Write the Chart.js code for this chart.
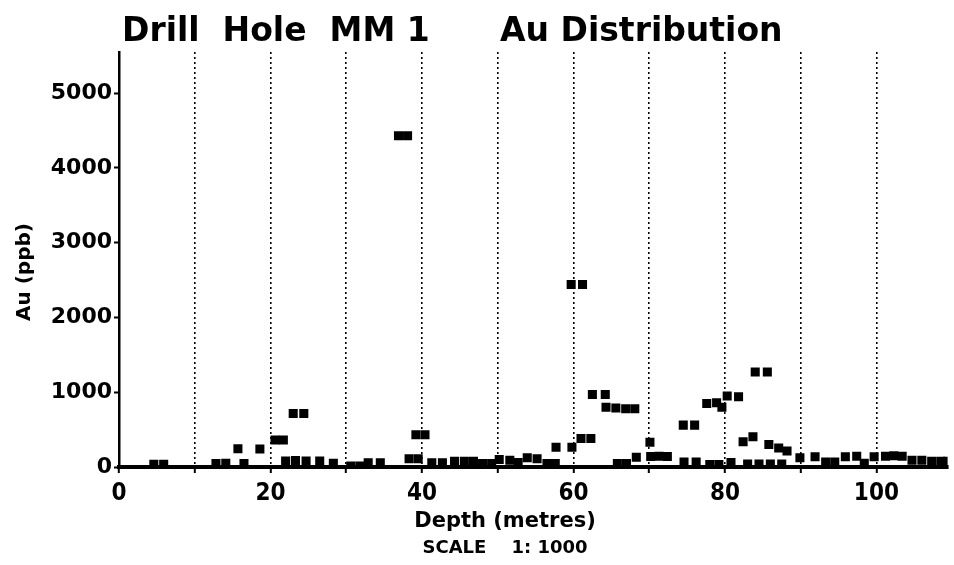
<!DOCTYPE html>
<html>
<head>
<meta charset="utf-8">
<title>Drill Hole MM 1 - Au Distribution</title>
<script src="https://cdn.jsdelivr.net/npm/chart.js@4.4.1/dist/chart.umd.min.js"></script>
<style>
  html, body { margin: 0; padding: 0; background: #fff; }
  #wrap { width: 954px; height: 565px; }
</style>
</head>
<body>
<div id="wrap"><canvas id="chart" width="954" height="565"></canvas></div>
<script>
// Captions
const titleLeft = 'Drill  Hole  MM 1';
const titleRight = 'Au Distribution';
const xAxisTitle = 'Depth (metres)';
const scaleNote = 'SCALE    1: 1000';
const yAxisTitle = 'Au (ppb)';

// Tick values: labelled depths (gridlines every 10 m) and Au levels
const depthLabelTicks = [0, 20, 40, 60, 80, 100];
const auTicks = [0, 1000, 2000, 3000, 4000, 5000];

// Sample depths (m) and gold assays (ppb)
const depthMetres = [
  4.6, 5.9,
  12.8, 14.1, 15.7, 16.5, 18.6,
  20.6, 21.7, 22.0, 23.0, 23.3, 24.4, 24.7, 26.5, 28.3,
  30.6, 31.8, 32.9, 34.5,
  36.9, 38.1, 38.3, 39.2, 39.5, 40.4,
  41.3, 42.7, 44.3, 45.6, 46.8, 48.0, 49.2,
  50.2, 51.6, 52.7, 53.9, 55.2, 56.5, 57.6,
  57.7, 59.7, 59.8, 61.0, 61.2, 62.3, 62.5, 64.2,
  64.3, 65.6, 65.8, 66.9, 67.0, 68.1, 68.3,
  70.1, 70.2, 71.3, 72.4,
  74.5, 74.6, 76.0, 76.2,
  77.6, 78.0, 78.9, 79.2, 79.6, 80.3, 80.8, 81.8,
  82.4, 83.0, 83.7, 84.0, 84.5, 85.6, 85.8, 86.0, 87.1, 87.5, 88.2,
  89.9, 91.9, 93.3, 94.5, 95.9, 97.4, 98.4, 99.7,
  101.2, 102.3, 103.4, 104.7, 106.0, 107.3, 108.5, 109.4
];
const auPpb = [
  35, 35,
  45, 50, 245, 45, 240,
  360, 360, 80, 715, 85, 715, 80, 80, 50,
  12, 12, 56, 56,
  4430, 4430, 110, 432, 110, 432,
  56, 56, 78, 78, 78, 47, 47,
  100, 90, 60, 123, 110, 47, 47,
  265, 2440, 265, 380, 2440, 380, 970, 970,
  800, 790, 47, 780, 47, 780, 130,
  330, 140, 145, 140,
  560, 65, 560, 65,
  850, 33, 860, 33, 800, 950, 60, 940,
  338, 40, 405, 1270, 40, 1270, 300, 40, 255, 40, 215,
  125, 136, 65, 65, 136, 145, 50, 136,
  145, 150, 145, 90, 90, 78, 78, 78
];

const points = depthMetres.map((d, i) => ({ x: d, y: auPpb[i] }));

// Chart title and axis captions drawn around the plot area
const captions = {
  id: 'captions',
  afterDraw(chart) {
    const { ctx, chartArea: a } = chart;
    ctx.save();
    ctx.fillStyle = '#000';
    ctx.textBaseline = 'alphabetic';
    ctx.textAlign = 'left';
    ctx.font = 'bold 33px "DejaVu Sans", sans-serif';
    ctx.fillText(titleLeft, a.left + 3, 41);
    ctx.fillText(titleRight, a.left + 381, 41);

    ctx.textAlign = 'center';
    ctx.textBaseline = 'middle';
    ctx.font = 'bold 21px "DejaVu Sans", sans-serif';
    ctx.fillText(xAxisTitle, 505, a.bottom + 55);
    ctx.font = 'bold 18px "DejaVu Sans", sans-serif';
    ctx.fillText(scaleNote, 505, a.bottom + 81);

    ctx.translate(25, 272);
    ctx.rotate(-Math.PI / 2);
    ctx.font = 'bold 20px "DejaVu Sans", sans-serif';
    ctx.fillText(yAxisTitle, 0, 0);
    ctx.restore();
  }
};

new Chart(document.getElementById('chart'), {
  type: 'scatter',
  data: {
    datasets: [{
      data: points,
      pointStyle: 'rect',
      pointRadius: 6.4,
      pointHoverRadius: 6.4,
      pointBorderWidth: 0,
      backgroundColor: '#000',
      borderColor: '#000',
      clip: 0
    }]
  },
  options: {
    responsive: false,
    animation: false,
    events: [],
    layout: { padding: { top: 52, right: 1, left: 0, bottom: 0 } },
    plugins: {
      legend: { display: false },
      title: { display: false },
      tooltip: { enabled: false }
    },
    scales: {
      x: {
        type: 'linear',
        min: 0,
        max: 109.4,
        afterFit(scale) { scale.height = 98; },
        border: { display: true, color: '#000', width: 4, dash: [2, 3] },
        grid: {
          drawOnChartArea: true,
          drawTicks: true,
          tickLength: 6,
          tickWidth: 2,
          tickColor: '#000',
          lineWidth: 1.6,
          color: (c) => (c.tick && c.tick.value === 0 ? 'rgba(0,0,0,0)' : '#000')
        },
        ticks: {
          stepSize: 10,
          includeBounds: false,
          maxRotation: 0,
          autoSkip: false,
          padding: 6,
          color: '#000',
          font: { family: '"Liberation Sans Narrow", "DejaVu Sans Condensed", sans-serif', size: 24, weight: 'bold' },
          callback: (v) => (depthLabelTicks.includes(v) ? String(v) : '')
        }
      },
      y: {
        type: 'linear',
        min: 0,
        max: 5550,
        afterFit(scale) { scale.width = 119; },
        afterBuildTicks(scale) { scale.ticks = auTicks.map((v) => ({ value: v })); },
        border: { display: true, color: '#000', width: 2.5 },
        grid: {
          drawOnChartArea: false,
          drawTicks: true,
          tickLength: 5,
          tickWidth: 2,
          tickColor: '#000'
        },
        ticks: {
          padding: 2,
          color: '#000',
          font: { family: '"DejaVu Sans", sans-serif', size: 22, weight: 'bold' },
          callback: (v) => String(v)
        }
      }
    }
  },
  plugins: [captions]
});
</script>
</body>
</html>
